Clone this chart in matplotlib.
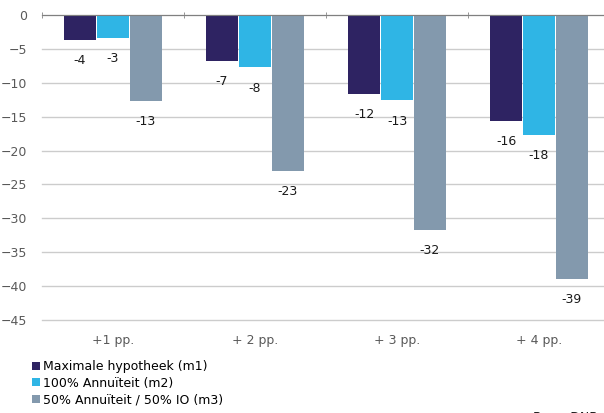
import matplotlib.pyplot as plt
import numpy as np

categories = ['+1 pp.', '+ 2 pp.', '+ 3 pp.', '+ 4 pp.']
series = ['Maximale hypotheek (m1)', '100% Annuïteit (m2)', '50% Annuïteit / 50% IO (m3)']
m1 = [-3.7, -6.8, -11.6, -15.6]
m2 = [-3.4, -7.7, -12.6, -17.7]
m3 = [-12.7, -23.0, -31.7, -38.9]
colors = ['#2e2362', '#2fb5e5', '#8399ad']

fig = plt.figure(figsize=(6.04, 4.13), dpi=100)
ax = fig.add_axes([42/604, 1 - 320/413, 568/604, 305/413])

x = np.arange(len(categories))
w = 0.22
offs = [-0.232, 0, 0.232]
for vals, off, c, name in zip([m1, m2, m3], offs, colors, series):
    bars = ax.bar(x + off, vals, w, color=c, label=name, zorder=3)
    for b, v in zip(bars, vals):
        ax.annotate(f'{int(np.round(v))}',
                    (b.get_x() + b.get_width()/2, v), xytext=(0, -15),
                    textcoords='offset points', ha='center', va='center',
                    fontsize=9, color='#1a1a1a')

ax.set_xlim(-0.5, 3.5)
ax.set_ylim(-45, 0)
ax.set_yticks(np.arange(-45, 1, 5))
ax.yaxis.grid(True, color='#cccccc', lw=1, zorder=0)
for gl in ax.get_ygridlines():
    gl.set_clip_on(False)
ax.set_xticks(x)
ax.set_xticklabels(categories)
ax.set_xticks(np.arange(-0.5, 4, 1), minor=True)
ax.tick_params(axis='x', which='major', length=0, pad=10, labelsize=9, labelcolor='#595959')
ax.tick_params(axis='x', which='minor', top=True, bottom=False, direction='inout', length=5, color='#808080')
ax.tick_params(axis='y', length=0, pad=11, labelsize=9, labelcolor='#595959')
for s in ['left', 'right', 'bottom']:
    ax.spines[s].set_visible(False)
ax.spines['top'].set_color('#808080')
ax.spines['top'].set_zorder(4)

ax.legend(loc='upper left', bbox_to_anchor=(32/604, 1 - 360/413), bbox_transform=fig.transFigure,
          frameon=False, fontsize=9, handlelength=0.6, handleheight=0.6, handletextpad=0.3,
          labelspacing=0.3, borderaxespad=0, borderpad=0)

# source line sits at the very bottom edge, mostly cut off as in the original
fig.text(533/604, 2/413, 'Bron: DNB', fontsize=9, va='top', color='#1a1a1a')
fig.savefig('out.png', dpi=100)
